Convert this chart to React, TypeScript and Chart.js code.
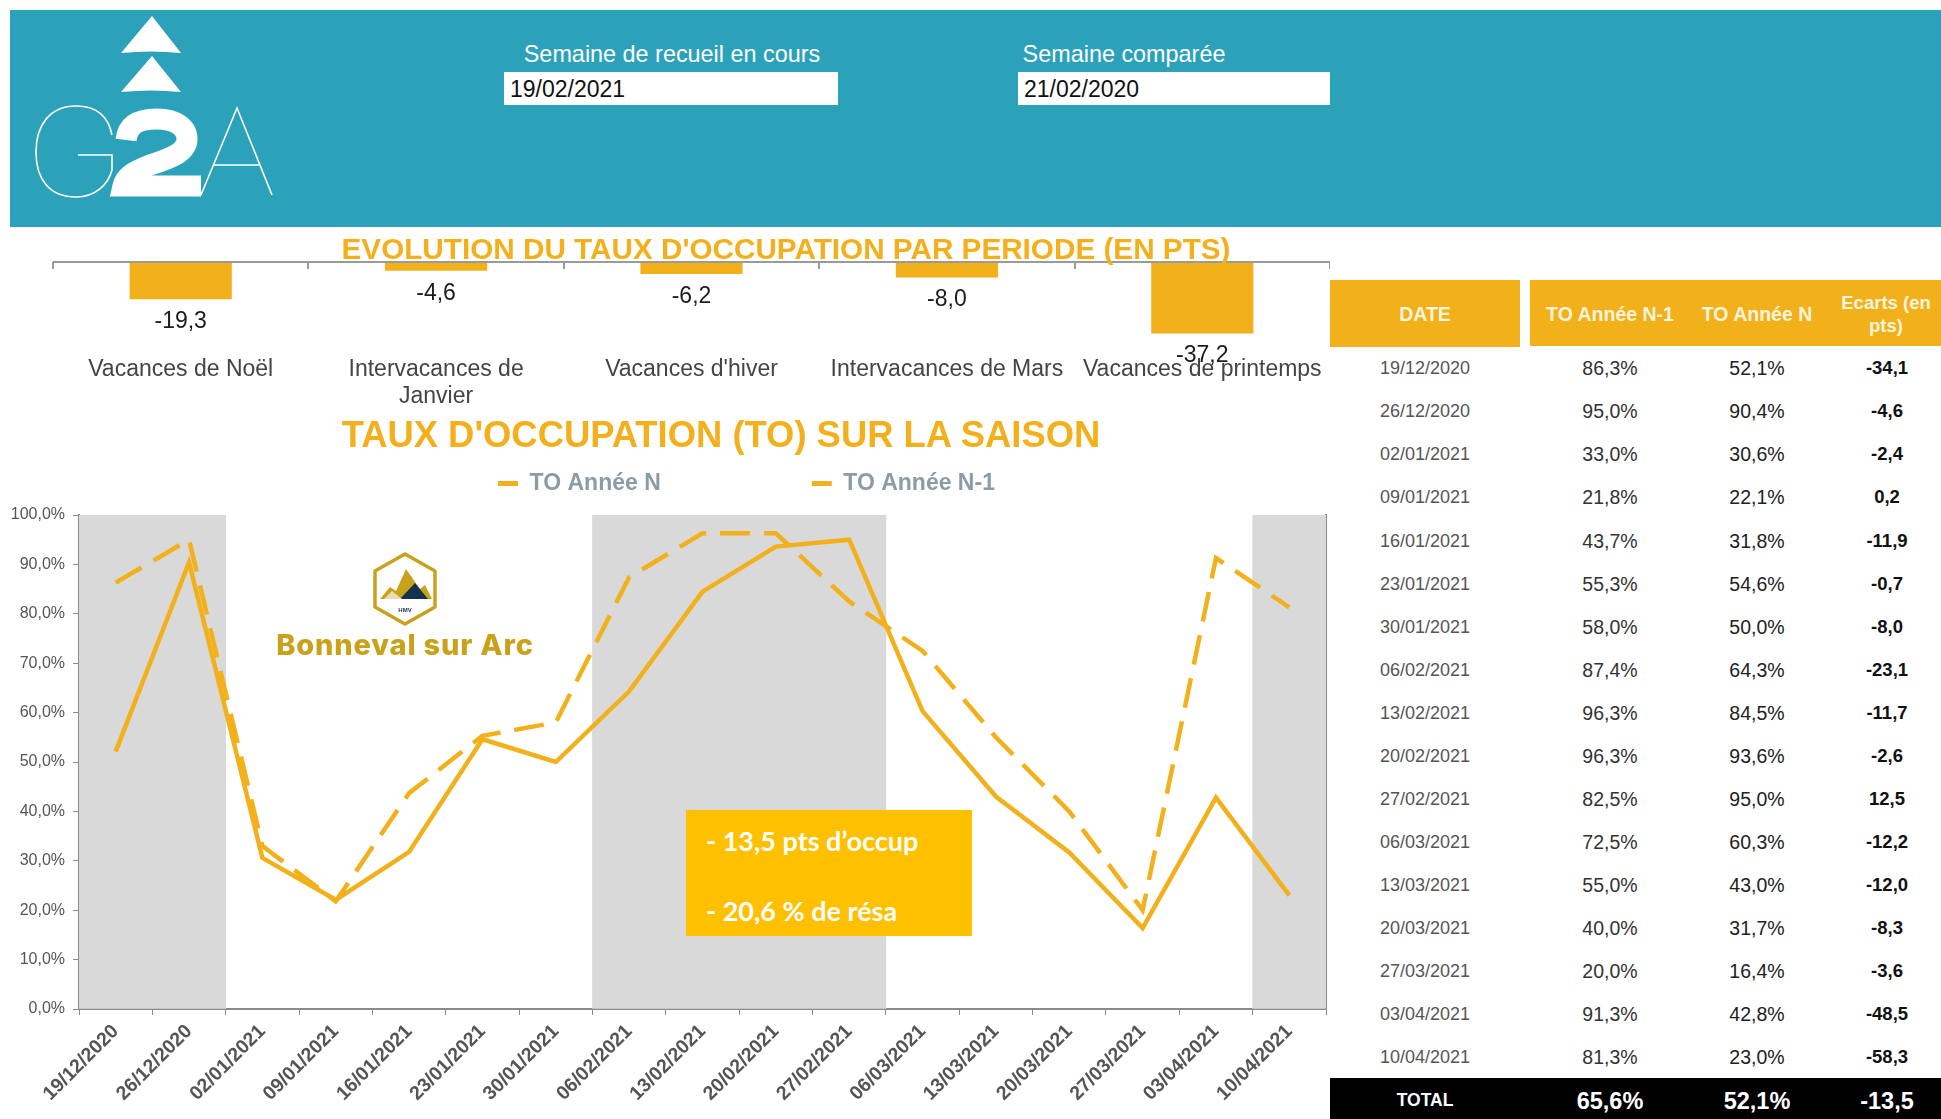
import React, { useEffect, useRef } from "react";
import { Chart, registerables } from "chart.js";

Chart.register(...registerables);

const dates = ["19/12/2020","26/12/2020","02/01/2021","09/01/2021","16/01/2021","23/01/2021","30/01/2021","06/02/2021","13/02/2021","20/02/2021","27/02/2021","06/03/2021","13/03/2021","20/03/2021","27/03/2021","03/04/2021","10/04/2021"];
const toN1 = [86.3,95.0,33.0,21.8,43.7,55.3,58.0,87.4,96.3,96.3,82.5,72.5,55.0,40.0,20.0,91.3,81.3];
const toN = [52.1,90.4,30.6,22.1,31.8,54.6,50.0,64.3,84.5,93.6,95.0,60.3,43.0,31.7,16.4,42.8,23.0];
const ecarts = [-34.1,-4.6,-2.4,0.2,-11.9,-0.7,-8.0,-23.1,-11.7,-2.6,12.5,-12.2,-12.0,-8.3,-3.6,-48.5,-58.3];
const holidayBands = [100,100,null,null,null,null,null,100,100,100,100,null,null,null,null,null,100];
const periods = ["Vacances de Noël",["Intervacances de","Janvier"],"Vacances d'hiver","Intervacances de Mars","Vacances de printemps"];
const periodValues = [-19.3,-4.6,-6.2,-8.0,-37.2];
const totals = { n1: "65,6%", n: "52,1%", ecart: "-13,5" };

const GOLD = "#F2B01A";
const SANS = '"Liberation Sans", Arial, sans-serif';
const fr1 = (v: number) => v.toFixed(1).replace(".", ",");

const abs = (left: number, top: number, extra: React.CSSProperties = {}): React.CSSProperties => ({
  position: "absolute", left, top, whiteSpace: "nowrap", fontFamily: SANS, ...extra,
});

function Centered({ x, y, children, style }: { x: number; y: number; children: React.ReactNode; style?: React.CSSProperties }) {
  return <div style={{ ...abs(x, y), transform: "translate(-50%,-50%)", textAlign: "center", ...style }}>{children}</div>;
}

const barExtras = {
  id: "barExtras",
  afterDatasetsDraw(chart: any) {
    const { ctx, scales } = chart;
    const y0 = scales.y.getPixelForValue(0);
    const n = scales.x.ticks.length;
    const step = n > 0 ? (scales.x.right - scales.x.left) / n : 0;
    ctx.save();
    ctx.strokeStyle = "#9a9a9a";
    ctx.lineWidth = 2;
    ctx.beginPath();
    ctx.moveTo(scales.x.left, y0);
    ctx.lineTo(scales.x.right, y0);
    for (let i = 0; i <= n; i++) {
      const x = Math.round(scales.x.left + i * step);
      ctx.moveTo(x, y0);
      ctx.lineTo(x, y0 + 7);
    }
    ctx.stroke();
    ctx.fillStyle = "#1c1c1c";
    ctx.font = `23px ${SANS}`;
    ctx.textAlign = "center";
    ctx.textBaseline = "middle";
    chart.getDatasetMeta(0).data.forEach((bar: any, i: number) => {
      ctx.fillText(fr1(periodValues[i]), bar.x, bar.y + 22.5);
    });
    ctx.restore();
  },
};

const legendPlace = {
  id: "legendPlace",
  beforeDraw(chart: any) {
    const l = chart.legend;
    if (!l || l._placed) return;
    l._placed = true;
    const shift = 746.5 - (l.left + l.right) / 2;
    l.left += shift;
    l.right += shift;
    l.top -= 10;
    l.bottom -= 10;
  },
};

export default function App() {
  const topRef = useRef<HTMLCanvasElement>(null);
  const mainRef = useRef<HTMLCanvasElement>(null);

  useEffect(() => {
    document.body.style.margin = "0";
    const top = new Chart(topRef.current!, {
      type: "bar",
      plugins: [barExtras],
      data: {
        labels: periods as any,
        datasets: [{ data: periodValues, backgroundColor: GOLD, categoryPercentage: 0.4, barPercentage: 1 }],
      },
      options: {
        responsive: false,
        animation: false,
        layout: { padding: { left: 10, right: 0, top: 12, bottom: 0 } },
        plugins: { legend: { display: false }, tooltip: { enabled: false } },
        scales: {
          y: { display: false, min: -40, max: 0 },
          x: {
            position: "bottom",
            border: { display: false },
            grid: { display: false },
            ticks: { color: "#444", font: { family: SANS, size: 23, lineHeight: 1.17 }, padding: 9, maxRotation: 0, minRotation: 0, autoSkip: false },
            afterFit: (s: any) => { s.height = 81; s.paddingLeft = 0; s.paddingRight = 0; },
          },
        },
      },
    } as any);

    const main = new Chart(mainRef.current!, {
      type: "bar",
      plugins: [legendPlace],
      data: {
        labels: dates,
        datasets: [
          { type: "line", label: "TO Année N", data: toN, borderColor: GOLD, borderWidth: 4.5, pointRadius: 0, tension: 0, order: 1 },
          { type: "line", label: "TO Année N-1", data: toN1, borderColor: GOLD, borderWidth: 4.5, borderDash: [30, 14], pointRadius: 0, tension: 0, order: 2 },
          { type: "bar", label: "Vacances", data: holidayBands, backgroundColor: "#D9D9D9", categoryPercentage: 1, barPercentage: 1, order: 3 },
        ],
      },
      options: {
        responsive: false,
        animation: false,
        layout: { padding: { left: 0, right: 4, top: 0, bottom: 0 } },
        plugins: {
          tooltip: { enabled: false },
          legend: {
            display: true,
            position: "top",
            labels: {
              color: "#8C9CA6",
              font: { family: SANS, size: 23, weight: "bold" },
              boxWidth: 20,
              boxHeight: 5,
              padding: 151,
              filter: (item: any) => item.text !== "Vacances",
              generateLabels: (chart: any) =>
                chart.data.datasets.map((d: any, i: number) => ({
                  text: d.label, fillStyle: GOLD, strokeStyle: GOLD, lineWidth: 0, hidden: false, datasetIndex: i, fontColor: "#8C9CA6",
                })),
            },
          },
        },
        scales: {
          x: {
            offset: true,
            border: { color: "#8a8a8a", width: 2 },
            grid: { offset: true, drawOnChartArea: false, color: "#8a8a8a", tickLength: 6 },
            ticks: { color: "#555", font: { family: SANS, size: 19.5, weight: "bold" }, maxRotation: 45, minRotation: 45, autoSkip: false, padding: 5 },
            afterFit: (s: any) => { s.height = 110; },
          },
          y: {
            min: 0, max: 100,
            border: { color: "#8a8a8a", width: 2 },
            grid: { drawOnChartArea: false, color: "#8a8a8a", tickLength: 6 },
            ticks: { stepSize: 10, color: "#555", font: { family: SANS, size: 16 }, padding: 8, callback: (v: any) => fr1(Number(v)) + "%" },
            afterFit: (s: any) => { s.width = 79; },
          },
          y2: {
            position: "right",
            min: 0, max: 100,
            border: { color: "#8a8a8a", width: 2 },
            grid: { display: false },
            ticks: { display: false },
            afterFit: (s: any) => { s.width = 0; },
          },
        },
      },
    } as any);

    return () => { top.destroy(); main.destroy(); };
  }, []);

  const rowY = (i: number) => 368.2 + i * 43.08;
  return (
    <div style={{ position: "fixed", left: 0, top: 0, width: 1941, height: 1119, background: "#fff", overflow: "hidden", filter: "blur(0.5px)" }}>
      <div style={{ position: "absolute", left: 10, top: 10, width: 1931, height: 217, background: "#2CA2BA" }} />

      <svg width={300} height={215} style={{ position: "absolute", left: 0, top: 10 }} viewBox="0 10 300 215">
        <path d="M152,16 L181,53 Q151,50 121,53 Z M152,56 L181,92 Q151,89 121,92 Z" fill="#fff" />
        <path d="M112,135 C108,115 95,106 76,106 C50,106 36,125 36,152 C36,180 50,197 76,197 C95,197 108,185 112,170 L112,155 L78,155" fill="none" stroke="#fff" strokeWidth={1.6} />
        <path d="M126,140 C128,123 140,119 157,119 C175,119 187,127 187,139 C187,152 172,158 150,165 C132,172 125,177 123,186 L201,186" fill="none" stroke="#fff" strokeWidth={21} />
        <path d="M201,195 L237,108 L272,195 M213,165 L259,165" fill="none" stroke="#fff" strokeWidth={1.6} />
      </svg>

      <Centered x={672} y={54} style={{ color: "#fff", fontSize: 23.4 }}>Semaine de recueil en cours</Centered>
      <div style={{ ...abs(504, 72), width: 334, height: 33, background: "#fff", fontSize: 23, lineHeight: "35px", paddingLeft: 6, boxSizing: "border-box", color: "#111" }}>19/02/2021</div>
      <Centered x={1124} y={54} style={{ color: "#fff", fontSize: 23.4 }}>Semaine comparée</Centered>
      <div style={{ ...abs(1018, 72), width: 312, height: 33, background: "#fff", fontSize: 23, lineHeight: "35px", paddingLeft: 6, boxSizing: "border-box", color: "#111" }}>21/02/2020</div>

      <canvas ref={topRef} width={1287} height={170} style={{ position: "absolute", left: 43, top: 250 }} />
      <canvas ref={mainRef} width={1330} height={788} style={{ position: "absolute", left: 0, top: 331 }} />

      <Centered x={786} y={249} style={{ color: "#F4B01C", fontSize: 29.7, fontWeight: 700 }}>EVOLUTION DU TAUX D'OCCUPATION PAR PERIODE (EN PTS)</Centered>
      <Centered x={721} y={435} style={{ color: "#F4B01C", fontSize: 36.4, fontWeight: 700 }}>TAUX D'OCCUPATION (TO) SUR LA SAISON</Centered>

      <svg width={70} height={76} viewBox="0 0 70 76" style={{ position: "absolute", left: 370, top: 551 }}>
        <path d="M35,3 L65,20 L65,56 L35,73 L5,56 L5,20 Z" fill="#fff" stroke="#C9A21C" strokeWidth={3.5} strokeLinejoin="round" />
        <path d="M10,48 L20,36 L26,40 L36,18 L50,38 L55,34 L62,48 Z" fill="#C9A21C" />
        <path d="M30,48 L45,32 L58,48 Z" fill="#12324E" />
        <path d="M14,48 L22,40 L32,48 Z" fill="#EBDCB0" />
        <text x={35} y={61} textAnchor="middle" fontSize={6} fontWeight={700} fill="#12324E" fontFamily={SANS}>HMV</text>
      </svg>
      <Centered x={405} y={644} style={{ color: "#C9A21C", fontSize: 29, fontWeight: 800, fontFamily: "Inter, sans-serif", letterSpacing: 0.8 }}>Bonneval sur Arc</Centered>

      <div style={{ position: "absolute", left: 686, top: 810, width: 286, height: 126, background: "#FFC000" }} />
      <div style={{ ...abs(706, 840), transform: "translateY(-50%)", color: "#fff", fontSize: 27, fontWeight: 700, fontFamily: "Lato, sans-serif" }}>- 13,5 pts d’occup</div>
      <div style={{ ...abs(706, 910), transform: "translateY(-50%)", color: "#fff", fontSize: 27, fontWeight: 700, fontFamily: "Lato, sans-serif" }}>- 20,6 % de résa</div>

      <div style={{ position: "absolute", left: 1330, top: 280, width: 190, height: 67, background: "#F2B01A" }} />
      <div style={{ position: "absolute", left: 1530, top: 280, width: 411, height: 66, background: "#F2B01A" }} />
      <Centered x={1425} y={314} style={{ color: "#FFF4DC", fontSize: 19.5, fontWeight: 700 }}>DATE</Centered>
      <Centered x={1610} y={314} style={{ color: "#FFF4DC", fontSize: 19.5, fontWeight: 700 }}>TO Année N-1</Centered>
      <Centered x={1757} y={314} style={{ color: "#FFF4DC", fontSize: 19.5, fontWeight: 700 }}>TO Année N</Centered>
      <Centered x={1886} y={314} style={{ color: "#FFF4DC", fontSize: 18.5, fontWeight: 700, lineHeight: "23px" }}>Ecarts (en<br />pts)</Centered>

      {dates.map((d, i) => (
        <React.Fragment key={d}>
          <Centered x={1425} y={rowY(i)} style={{ color: "#555", fontSize: 18 }}>{d}</Centered>
          <Centered x={1610} y={rowY(i)} style={{ color: "#333", fontSize: 19.5 }}>{fr1(toN1[i])}%</Centered>
          <Centered x={1757} y={rowY(i)} style={{ color: "#222", fontSize: 19.5 }}>{fr1(toN[i])}%</Centered>
          <Centered x={1887} y={rowY(i)} style={{ color: "#111", fontSize: 18.5, fontWeight: 700 }}>{fr1(ecarts[i])}</Centered>
        </React.Fragment>
      ))}

      <div style={{ position: "absolute", left: 1330, top: 1078, width: 611, height: 41, background: "#000" }} />
      <Centered x={1425} y={1100} style={{ color: "#fff", fontSize: 17.5, fontWeight: 700 }}>TOTAL</Centered>
      <Centered x={1610} y={1101} style={{ color: "#fff", fontSize: 23.5, fontWeight: 700 }}>{totals.n1}</Centered>
      <Centered x={1757} y={1101} style={{ color: "#fff", fontSize: 23.5, fontWeight: 700 }}>{totals.n}</Centered>
      <Centered x={1887} y={1101} style={{ color: "#fff", fontSize: 23.5, fontWeight: 700 }}>{totals.ecart}</Centered>
    </div>
  );
}
